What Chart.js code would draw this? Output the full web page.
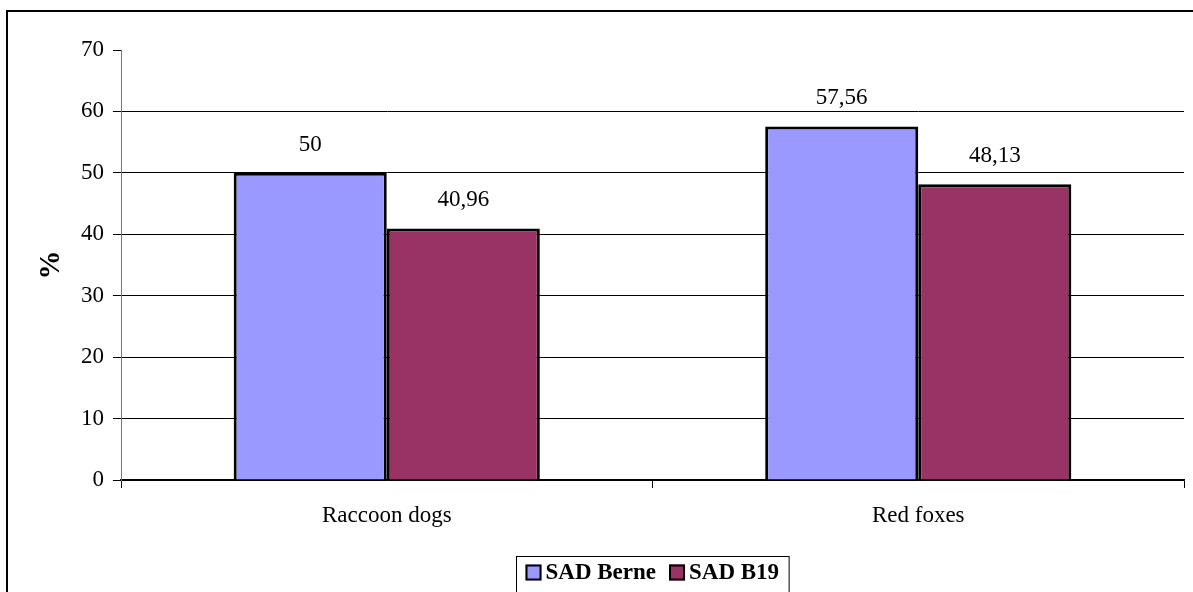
<!DOCTYPE html>
<html>
<head>
<meta charset="utf-8">
<script src="https://cdn.jsdelivr.net/npm/chart.js@4/dist/chart.umd.min.js"></script>
<style>
  html, body { margin: 0; padding: 0; background: #fff; overflow: hidden; }
  #wrap { position: absolute; left: 0; top: 0; width: 1200px; height: 600px; }
</style>
</head>
<body>
<div id="wrap"><canvas id="chart"></canvas></div>
<script>
const categories = ["Raccoon dogs", "Red foxes"];
const sadBerne = [50, 57.56];
const sadB19 = [40.96, 48.13];
const seriesNames = ["SAD Berne", "SAD B19"];
const yTicks = [0, 10, 20, 30, 40, 50, 60, 70];

const serif = "'Liberation Serif', 'Times New Roman', serif";

// outer frame of the chart object
const framePlugin = {
  id: 'frame',
  beforeDraw(chart) {
    const ctx = chart.ctx;
    ctx.save();
    ctx.fillStyle = '#fff';
    ctx.fillRect(0, 0, chart.width, chart.height);
    ctx.strokeStyle = '#000';
    ctx.lineWidth = 2;
    ctx.strokeRect(7, 11, 1400, 800);
    ctx.restore();
  }
};

// value labels above the bars
const valueLabels = {
  id: 'valueLabels',
  afterDatasetsDraw(chart) {
    const ctx = chart.ctx;
    ctx.save();
    ctx.font = '23px ' + serif;
    ctx.fillStyle = '#000';
    ctx.textAlign = 'center';
    ctx.textBaseline = 'alphabetic';
    chart.data.datasets.forEach((ds, i) => {
      chart.getDatasetMeta(i).data.forEach((bar, j) => {
        const txt = String(ds.data[j]).replace('.', ',');
        ctx.fillText(txt, bar.x, bar.y - 22);
      });
    });
    ctx.restore();
  }
};

// boxed legend under the axis, like the spreadsheet one
const boxLegend = {
  id: 'boxLegend',
  afterDraw(chart) {
    const ctx = chart.ctx;
    const area = chart.chartArea;
    ctx.save();
    ctx.font = 'bold 23px ' + serif;
    const ds = chart.data.datasets;
    const widths = ds.map(d => ctx.measureText(d.label).width);
    const sq = 16, padL = 9, gapTxt = 4, gapItem = 13, padR = 10;
    let w = padL + padR;
    widths.forEach((tw, i) => { w += sq + gapTxt + tw + (i < widths.length - 1 ? gapItem : 0); });
    const left = Math.round((area.left + area.right) / 2 - w / 2) + 0.5;
    const top = area.bottom + 76.5;
    ctx.strokeStyle = '#000';
    ctx.lineWidth = 1;
    ctx.strokeRect(left, top, w, 60);
    const cy = top + 16;
    let x = left + padL;
    ds.forEach((d, i) => {
      ctx.fillStyle = d.backgroundColor;
      ctx.fillRect(x, cy - sq / 2, sq, sq);
      ctx.lineWidth = 2;
      ctx.strokeRect(x + 1, cy - sq / 2 + 1, sq - 2, sq - 2);
      ctx.fillStyle = '#000';
      ctx.textBaseline = 'middle';
      ctx.fillText(d.label, x + sq + gapTxt, cy + 1);
      x += sq + gapTxt + widths[i] + gapItem;
    });
    ctx.restore();
  }
};

new Chart(document.getElementById("chart"), {
  type: 'bar',
  data: {
    labels: categories,
    datasets: [
      {
        label: seriesNames[0],
        backgroundColor: "#9999FF",
        borderColor: "#000",
        borderWidth: 3,
        borderSkipped: 'start',
        data: sadBerne
      }, {
        label: seriesNames[1],
        backgroundColor: "#993366",
        borderColor: "#000",
        borderWidth: 3,
        borderSkipped: 'start',
        data: sadB19
      }
    ]
  },
  options: {
    responsive: true,
    maintainAspectRatio: false,
    animation: false,
    layout: { padding: { top: 50, right: 16, left: 0, bottom: 0 } },
    datasets: { bar: { categoryPercentage: 0.576, barPercentage: 1 } },
    plugins: {
      legend: { display: false },
      tooltip: { enabled: false }
    },
    scales: {
      x: {
        afterFit(scale) { scale.height = 120; },
        grid: {
          display: true, drawOnChartArea: false, drawTicks: true,
          tickLength: 8, color: '#000', offset: true
        },
        border: { display: true, color: '#000', width: 1.5 },
        ticks: { color: '#000', padding: 14, font: { family: serif, size: 23 } }
      },
      y: {
        min: 0,
        max: 70,
        afterFit(scale) { scale.width = 121; },
        afterBuildTicks(scale) { scale.ticks = yTicks.map(v => ({ value: v })); },
        grid: {
          color: c => (c.tick && c.tick.value === 70) ? 'rgba(0,0,0,0)' : '#000',
          tickColor: '#000',
          tickLength: 8
        },
        border: { display: true, color: '#777', width: 1 },
        ticks: { color: '#000', padding: 9, font: { family: serif, size: 23 } },
        title: {
          display: true,
          text: '%',
          color: '#000',
          font: { family: serif, size: 29, weight: 'bold' },
          padding: { top: 34, bottom: 0 }
        }
      }
    }
  },
  plugins: [framePlugin, valueLabels, boxLegend]
});
</script>
</body>
</html>
